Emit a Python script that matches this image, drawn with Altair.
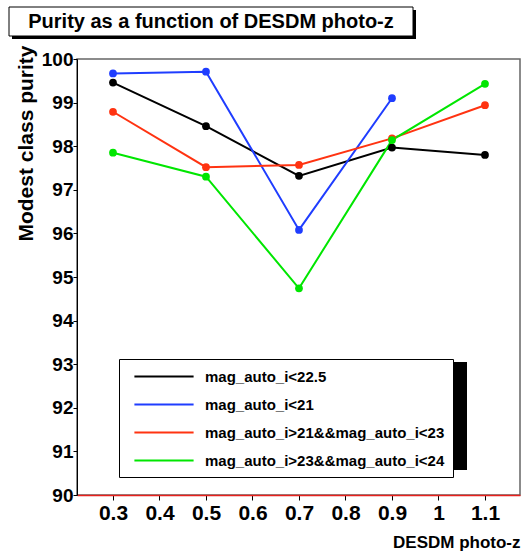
import altair as alt
import pandas as pd

# ---- data ----
photo_z = [0.3, 0.5, 0.7, 0.9, 1.1]
series_names = [
    "mag_auto_i<22.5",
    "mag_auto_i<21",
    "mag_auto_i>21&&mag_auto_i<23",
    "mag_auto_i>23&&mag_auto_i<24",
]
purity_black = [99.46, 98.46, 97.32, 97.97, 97.80]
purity_blue = [99.67, 99.71, 96.08, 99.10]
purity_red = [98.79, 97.52, 97.57, 98.18, 98.94]
purity_green = [97.85, 97.30, 94.74, 98.14, 99.43]
series_colors = ["#000000", "#1f3dff", "#ff3311", "#00e600"]

y_major = [90, 91, 92, 93, 94, 95, 96, 97, 98, 99, 100]
x_major = [0.3, 0.4, 0.5, 0.6, 0.7, 0.8, 0.9, 1.0, 1.1]

title_text = "Purity as a function of DESDM photo-z"

rows = []
for name, vals in zip(series_names, [purity_black, purity_blue, purity_red, purity_green]):
    for z, v in zip(photo_z, vals):
        rows.append({"z": z, "purity": v, "cut": name})
df = pd.DataFrame(rows)

FONT = "Liberation Sans"
W, H = 443, 436
X_MIN, X_MAX = 0.2226, 1.1753
Y_MIN, Y_MAX = 90, 100

xs = alt.Scale(domain=[X_MIN, X_MAX], nice=False, zero=False)
ys = alt.Scale(domain=[Y_MIN, Y_MAX], nice=False, zero=False)
color = alt.Color(
    "cut:N",
    scale=alt.Scale(domain=series_names, range=series_colors),
    sort=series_names,
    legend=alt.Legend(
        title=None,
        orient="none",
        legendX=42,
        legendY=300,
        fillColor="white",
        strokeColor="black",
        padding=8,
        symbolType="M-3.7,0H3.7",
        symbolSize=256,
        symbolStrokeWidth=2.2,
        symbolOffset=27.5,
        labelOffset=31.5,
        rowPadding=10,
        labelFont=FONT,
        labelFontSize=15,
        labelFontWeight="bold",
        labelColor="black",
        labelLimit=400,
        labelExpr="datum.label + '   '",
    ),
)

axis_x_labels = alt.Axis(
    values=x_major, format="~g", ticks=True, tickSize=5, tickColor="black",
    labelFont=FONT, labelFontSize=21, labelFontWeight="bold", labelColor="black",
    labelPadding=2, domainColor="#e8201c", domainWidth=1.5, title="DESDM photo-z",
    titleFont=FONT, titleFontSize=17, titleFontWeight="bold", titleColor="black",
    titleAnchor="end", titleBaseline="alphabetic", titleY=52, grid=False,
    labelFlush=False, labelOverlap=False,
)
axis_y_labels = alt.Axis(
    values=y_major, ticks=True, tickSize=4, tickColor="black", labelFont=FONT,
    labelFontSize=19, labelFontWeight="bold", labelColor="black", labelPadding=0,
    domainColor="black", title="Modest class purity", titleFont=FONT, titleFontSize=21,
    titleFontWeight="bold", titleColor="black", titleAnchor="end", titleY=-14,
    titlePadding=5, grid=False, labelFlush=False, labelOverlap=False,
)

lines = alt.Chart(df).mark_line(strokeWidth=2).encode(
    x=alt.X("z:Q", scale=xs, axis=axis_x_labels),
    y=alt.Y("purity:Q", scale=ys, axis=axis_y_labels),
    color=color,
)
points = alt.Chart(df).mark_circle(size=60, opacity=1).encode(
    x=alt.X("z:Q", scale=xs),
    y=alt.Y("purity:Q", scale=ys),
    color=alt.Color("cut:N", scale=alt.Scale(domain=series_names, range=series_colors), legend=None),
)

box_df = pd.DataFrame({"t": [title_text]})
title_shadow = alt.Chart(box_df).mark_rect(fill="black", clip=False).encode(
    x=alt.value(-65), x2=alt.value(339), y=alt.value(-49), y2=alt.value(-20)
)
title_box = alt.Chart(box_df).mark_rect(fill="white", stroke="black", strokeWidth=1, clip=False).encode(
    x=alt.value(-68), x2=alt.value(336), y=alt.value(-52), y2=alt.value(-23)
)
title_label = alt.Chart(box_df).mark_text(
    font=FONT, fontSize=20, fontWeight="bold", color="black", align="center",
    baseline="middle", clip=False,
).encode(text="t:N", x=alt.value(134), y=alt.value(-37.5))
legend_shadow = alt.Chart(box_df).mark_rect(fill="black").encode(
    x=alt.value(45), x2=alt.value(390), y=alt.value(303), y2=alt.value(411)
)

chart = alt.layer(
    lines, points, title_shadow, title_box, title_label, legend_shadow,
).properties(
    width=W, height=H,
    padding={"left": 77, "top": 59, "right": 1, "bottom": 57},
    autosize=alt.AutoSizeParams(type="none"),
    background="white",
).configure_view(stroke="#666666", strokeWidth=1.5)

chart.save("out.html", embed_options={"renderer": "svg", "actions": False})
